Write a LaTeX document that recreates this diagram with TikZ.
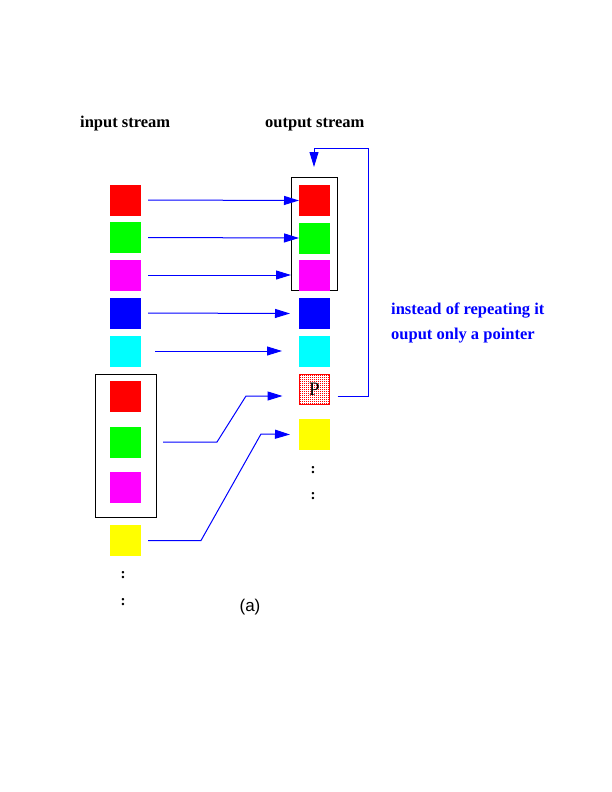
\documentclass[tikz,border=0pt]{standalone}
\usepackage{fontspec}
\setmainfont{Liberation Serif}
\newfontfamily\labsans{Liberation Sans}
\usetikzlibrary{arrows.meta,calc}
\definecolor{cRed}{rgb}{1,0,0}
\definecolor{cGreen}{rgb}{0,1,0}
\definecolor{cMag}{rgb}{1,0,1}
\definecolor{cBlue}{rgb}{0,0,1}
\definecolor{cCyan}{rgb}{0,1,1}
\definecolor{cYel}{rgb}{1,1,0}
\begin{document}
\begin{tikzpicture}[x=1pt,y=-1pt,
  sq/.style={draw=none,minimum size=31pt,inner sep=0pt,outer sep=0pt},
  flow/.style={cBlue,line width=1pt,-{Triangle[length=15pt,width=9pt]}},
  grp/.style={draw=black,line width=1pt,inner sep=0pt,outer sep=0pt},
  lab/.style={font=\bfseries\fontsize{16.5}{19}\selectfont,anchor=base west,inner sep=0pt},
  note/.style={lab,text=cBlue},
  vdots/.style={font=\bfseries\fontsize{15}{16}\selectfont,inner sep=0pt}]
\useasboundingbox (0,0) rectangle (612,792);
% labels
\node[lab] (tin) at (80,127) {input stream};
\node[lab] (tout) at (265,127) {output stream};
\node[note] (n1) at (391,314) {instead of repeating it};
\node[note] (n2) at (391,339) {ouput only a pointer};
\node[font=\labsans\fontsize{17}{20}\selectfont,inner sep=0pt] (cap) at (250,607) {(a)};
% groups
\node[grp,minimum width=61pt,minimum height=143pt] (lbox) at (125.5,445.5) {};
\node[grp,minimum width=46pt,minimum height=113pt] (rbox) at (314,233.5) {};
% input stream
\node[sq,fill=cRed] (l1) at (125.5,200) {};
\node[sq,fill=cGreen] (l2) at (125.5,237.5) {};
\node[sq,fill=cMag] (l3) at (125.5,275) {};
\node[sq,fill=cBlue] (l4) at (125.5,313) {};
\node[sq,fill=cCyan] (l5) at (125.5,351) {};
\node[sq,fill=cRed] (l6) at (125.5,396.5) {};
\node[sq,fill=cGreen] (l7) at (125.5,442) {};
\node[sq,fill=cMag] (l8) at (125.5,487.5) {};
\node[sq,fill=cYel] (l9) at (125.5,540.5) {};
\node[vdots] (ld1) at (123,575) {:};
\node[vdots] (ld2) at (123,602) {:};
% output stream
\node[sq,fill=cRed] (r1) at (314.5,200.5) {};
\node[sq,fill=cGreen] (r2) at (314.5,238) {};
\node[sq,fill=cMag] (r3) at (314.5,275) {};
\node[sq,fill=cBlue] (r4) at (314.5,313.5) {};
\node[sq,fill=cCyan] (r5) at (314.5,351) {};
\node[sq,draw=cRed,line width=1pt,minimum size=30pt,font=\fontsize{19}{20}\selectfont,
  path picture={\foreach \i in {0,...,14}{\foreach \j in {0,...,14}{
    \fill[cRed] ($(path picture bounding box.north west)+(2*\i+0.6,2*\j+0.6)$) rectangle +(1.1,1.1);}}}]
  (r6) at (314.5,389) {P};
\node[sq,fill=cYel] (r7) at (314.5,434.5) {};
\node[vdots] (rd1) at (313,470) {:};
\node[vdots] (rd2) at (313,496) {:};
% connectors
\draw[flow] ([xshift=7pt]l1.east) -- (r1.west);
\draw[flow] ([xshift=7pt]l2.east) -- (r2.west);
\draw[flow] ([xshift=7pt]l3.east) -- (rbox.west |- l3);
\draw[flow] ([xshift=7pt]l4.east) -- ([xshift=-9pt]r4.west);
\draw[flow] ([xshift=14pt]l5.east) -- ([xshift=-17pt]r5.west);
\coordinate (c6) at (217,442);
\coordinate (d6) at (246,396);
\draw[flow] ([xshift=7pt]lbox.east |- l7) -- (c6) -- (d6) -- ([xshift=-17pt,yshift=-7pt]r6.west);
\coordinate (c7) at (201,540.5);
\coordinate (d7) at (261,434);
\draw[flow] ([xshift=7pt]l9.east) -- (c7) -- (d7) -- ([xshift=-9pt]r7.west);
\coordinate (e1) at (368,396);
\coordinate (e2) at (368,148);
\draw[flow] ([xshift=8pt,yshift=-7pt]r6.east) -- (e1) -- (e2) -| ([yshift=10pt]rbox.north);
\end{tikzpicture}
\end{document}
